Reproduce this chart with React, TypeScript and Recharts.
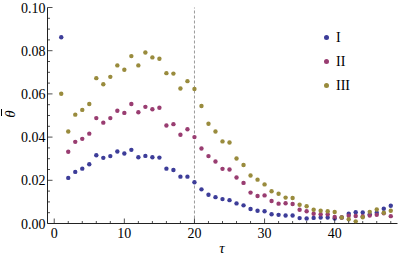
import React from "react";
import { ScatterChart, Scatter, XAxis, YAxis, ReferenceLine } from "recharts";

const taus = [
    1, 2, 3, 4, 5, 6, 7, 8, 9, 10, 11, 12, 13, 14, 15, 16, 17, 18, 19, 20, 21, 22, 23, 24,
    25, 26, 27, 28, 29, 30, 31, 32, 33, 34, 35, 36, 37, 38, 39, 40, 41, 42, 43, 44, 45, 46, 47, 48,
];

const seriesI = [
    0.0862, 0.0211, 0.0239, 0.0254, 0.0274, 0.0316, 0.0304, 0.0312, 0.0333, 0.0324, 0.0341, 0.0307,
    0.0313, 0.0307, 0.0305, 0.0254, 0.0248, 0.0217, 0.0217, 0.0191, 0.0158, 0.0133, 0.0122, 0.0113,
    0.0108, 0.0093, 0.0084, 0.0067, 0.0059, 0.0057, 0.0043, 0.0040, 0.0037, 0.0037, 0.0025, 0.0023,
    0.0026, 0.0028, 0.0028, 0.0023, 0.0028, 0.0045, 0.0052, 0.0051, 0.0043, 0.0050, 0.0068, 0.0082,
];

const seriesII = [
    null, 0.0332, 0.0378, 0.0392, 0.0416, 0.0488, 0.0467, 0.0488, 0.0522, 0.0512, 0.0553, 0.0515,
    0.0540, 0.0529, 0.0536, 0.0454, 0.0460, 0.0411, 0.0436, 0.0400, 0.0347, 0.0312, 0.0287, 0.0253,
    0.0250, 0.0213, 0.0188, 0.0143, 0.0127, 0.0130, 0.0104, 0.0092, 0.0094, 0.0090, 0.0064, 0.0057,
    0.0045, 0.0043, 0.0043, 0.0030, 0.0028, 0.0036, 0.0035, 0.0034, 0.0037, 0.0040, 0.0047, 0.0034,
];

const seriesIII = [
    0.0601, 0.0426, 0.0504, 0.0526, 0.0553, 0.0673, 0.0645, 0.0679, 0.0732, 0.0712, 0.0775, 0.0732,
    0.0792, 0.0769, 0.0763, 0.0696, 0.0694, 0.0625, 0.0659, 0.0623, 0.0544, 0.0462, 0.0426, 0.0380,
    0.0375, 0.0301, 0.0271, 0.0222, 0.0203, 0.0181, 0.0149, 0.0138, 0.0120, 0.0118, 0.0087, 0.0080,
    0.0064, 0.0059, 0.0057, 0.0053, 0.0028, 0.0020, 0.0010, 0.0029, 0.0054, 0.0065, 0.0050, 0.0059,
];

const seriesNames = ["I", "II", "III"];
const seriesColors = ["#3d3d99", "#993d71", "#998b3d"];

const xTicks = [0, 2, 4, 6, 8, 10, 12, 14, 16, 18, 20, 22, 24, 26, 28, 30, 32, 34, 36, 38, 40, 42, 44, 46, 48];
const yTicks = [
    0, 0.005, 0.01, 0.015, 0.02, 0.025, 0.03, 0.035, 0.04, 0.045, 0.05,
    0.055, 0.06, 0.065, 0.07, 0.075, 0.08, 0.085, 0.09, 0.095, 0.1,
];

const font = "'Liberation Serif', 'Times New Roman', serif";
const frame = "#222";

const toPoints = (vals: (number | null)[]) =>
    taus.map((t, i) => ({ x: t, y: vals[i] })).filter(d => d.y != null);

const allSeries = [seriesI, seriesII, seriesIII].map(toPoints);

const isMajorX = (v: number) => v % 10 === 0;
const isMajorY = (v: number) => Math.round(v * 1000) % 20 === 0;

const BottomTick = ({ x, y, payload }: any) => {
    const v = payload.value;
    const major = isMajorX(v);
    return (
        <g>
            <line x1={x} x2={x} y1={y} y2={y - (major ? 5 : 2.5)} stroke={frame} strokeWidth={0.8} />
            {major && (
                <text x={x} y={y + 14} textAnchor="middle" fontSize={14} fontFamily={font} fill="#000">{v}</text>
            )}
        </g>
    );
};

const TopTick = ({ x, y, payload }: any) => {
    const major = isMajorX(payload.value);
    return <line x1={x} x2={x} y1={y} y2={y + (major ? 5 : 2.5)} stroke={frame} strokeWidth={0.8} />;
};

const LeftTick = ({ x, y, payload }: any) => {
    const v = payload.value;
    const major = isMajorY(v);
    return (
        <g>
            <line x1={x} x2={x + (major ? 5 : 2.5)} y1={y} y2={y} stroke={frame} strokeWidth={0.8} />
            {major && (
                <text x={x - 2} y={y + 5} textAnchor="end" fontSize={14} fontFamily={font} fill="#000">{v.toFixed(2)}</text>
            )}
        </g>
    );
};

const RightTick = ({ x, y, payload }: any) => {
    const major = isMajorY(payload.value);
    return <line x1={x} x2={x - (major ? 5 : 2.5)} y1={y} y2={y} stroke={frame} strokeWidth={0.8} />;
};

const dotShape = (color: string) => (props: any) =>
    <circle cx={props.cx} cy={props.cy} r={2.2} fill={color} />;

export default function App() {
    return (
        <div style={{ position: "absolute", left: 0, top: 0, width: 399, height: 259, background: "#fff" }}>
            <ScatterChart width={399} height={259} margin={{ top: 7.5, right: 1.5, left: 0, bottom: 0 }}>
                <XAxis xAxisId="b" type="number" dataKey="x" domain={[-0.96, 48.96]} allowDataOverflow
                    ticks={xTicks} interval={0} height={35.5} tickSize={0} tickMargin={0}
                    axisLine={{ stroke: frame }} tickLine={false} tick={<BottomTick />} />
                <XAxis xAxisId="t" orientation="top" type="number" dataKey="x" domain={[-0.96, 48.96]} allowDataOverflow
                    ticks={xTicks} interval={0} height={0} tickSize={0} tickMargin={0}
                    axisLine={{ stroke: frame }} tickLine={false} tick={<TopTick />} />
                <YAxis yAxisId="l" type="number" dataKey="y" domain={[0, 0.1]} allowDataOverflow
                    ticks={yTicks} interval={0} width={47.5} tickSize={0} tickMargin={0}
                    axisLine={{ stroke: frame }} tickLine={false} tick={<LeftTick />} />
                <YAxis yAxisId="r" orientation="right" type="number" dataKey="y" domain={[0, 0.1]} allowDataOverflow
                    ticks={yTicks} interval={0} width={0} tickSize={0} tickMargin={0}
                    axisLine={{ stroke: frame }} tickLine={false} tick={<RightTick />} />
                <ReferenceLine xAxisId="b" yAxisId="l" x={20} stroke="#9a9a9a" strokeDasharray="3 2" />
                {allSeries.map((pts, i) => (
                    <Scatter key={seriesNames[i]} name={seriesNames[i]} data={pts} xAxisId="b" yAxisId="l"
                        fill={seriesColors[i]} shape={dotShape(seriesColors[i])} isAnimationActive={false} />
                ))}
            </ScatterChart>

            {/* legend */}
            <div style={{ position: "absolute", left: 324, top: 25.5, fontFamily: font, fontSize: 14 }}>
                {seriesNames.map((n, i) => (
                    <div key={n} style={{ display: "flex", alignItems: "center", height: 24 }}>
                        <div style={{ width: 5, height: 5, borderRadius: "50%", background: seriesColors[i], marginRight: 7 }} />
                        <span>{n}</span>
                    </div>
                ))}
            </div>

            {/* axis labels: theta with bar, rotated */}
            <div style={{ position: "absolute", left: 1, top: 104, width: 18, height: 20, fontFamily: font, fontStyle: "italic",
                fontSize: 15, textAlign: "center", lineHeight: "20px", transform: "rotate(-90deg)" }}>
                <span style={{ position: "relative", display: "inline-block" }}>
                    θ
                    <span style={{ position: "absolute", left: 1.5, top: 1, width: 7, height: 1, background: "#000" }} />
                </span>
            </div>
            <div style={{ position: "absolute", left: 212, top: 240, width: 20, textAlign: "center", fontFamily: font,
                fontStyle: "italic", fontSize: 15 }}>
                τ
            </div>
        </div>
    );
}
